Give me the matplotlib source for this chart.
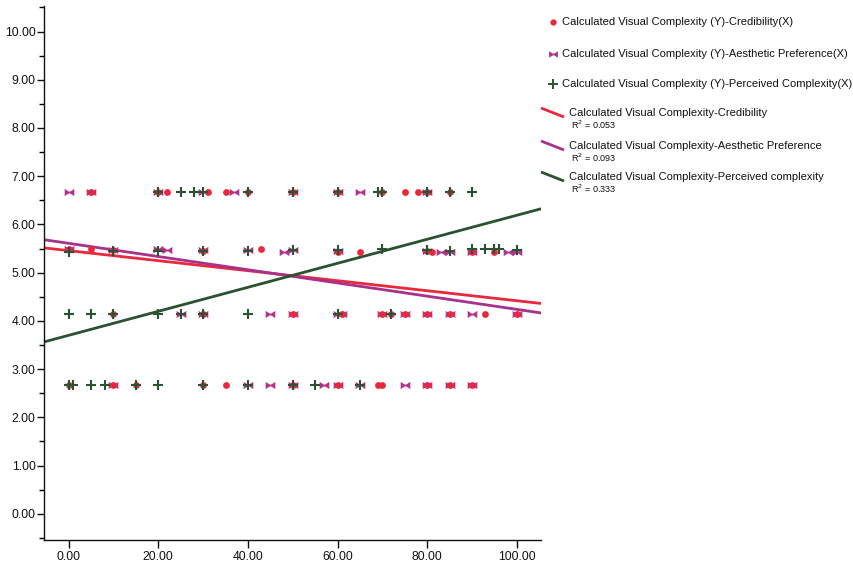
import numpy as np
import matplotlib
matplotlib.use("Agg")
import matplotlib.pyplot as plt
from matplotlib.path import Path
from matplotlib.ticker import MultipleLocator, FormatStrFormatter

plt.rcParams["font.family"] = ["Liberation Sans", "DejaVu Sans"]

# ---- data -------------------------------------------------------------
# Calculated Visual Complexity (Y) against Credibility (X)
cred_x = [5, 20, 22, 31, 35, 40, 50, 60, 70, 75, 78, 80, 85,
          0, 5, 10, 30, 43, 60, 65, 80, 81, 90, 95,
          10, 30, 50, 61, 70, 72, 75, 80, 85, 93, 100,
          0, 10, 15, 30, 35, 50, 60, 69, 70, 80, 85, 90]
cred_y = [6.67] * 13 + \
         [5.50, 5.50, 5.47, 5.45, 5.50, 5.43, 5.43, 5.45, 5.43, 5.43, 5.43] + \
         [4.15] * 11 + \
         [2.68] * 12

# Calculated Visual Complexity (Y) against Aesthetic Preference (X)
aest_x = [0, 5, 20, 30, 37, 50, 60, 65, 80,
          0, 10, 20, 22, 30, 40, 48, 50, 60, 80, 83, 85, 90, 98, 100,
          25, 30, 45, 50, 60, 61, 70, 75, 80, 85, 90, 100,
          10, 40, 45, 50, 57, 60, 65, 75, 80, 85, 90]
aest_y = [6.67] * 9 + \
         [5.48, 5.47, 5.48, 5.47, 5.47, 5.46, 5.43, 5.46, 5.44, 5.44, 5.43,
          5.43, 5.43, 5.43, 5.43] + \
         [4.15] * 12 + \
         [2.68] * 11

# Calculated Visual Complexity (Y) against Perceived Complexity (X)
perc_x = [20, 25, 28, 30, 40, 50, 60, 69, 70, 80, 85, 90,
          0, 10, 20, 30, 40, 50, 60, 70, 80, 85, 90, 93, 95, 96, 100,
          0, 5, 10, 20, 25, 30, 40, 60, 72,
          0, 1, 5, 8, 15, 20, 30, 40, 50, 55, 65]
perc_y = [6.67] * 12 + \
         [5.43, 5.44, 5.44, 5.45, 5.45, 5.47, 5.46, 5.48, 5.47, 5.45, 5.48,
          5.50, 5.50, 5.50, 5.47] + \
         [4.15] * 9 + \
         [2.68] * 11

# Linear fits: intercept, slope and R squared
fit_names = ["Calculated Visual Complexity-Credibility",
             "Calculated Visual Complexity-Aesthetic Preference",
             "Calculated Visual Complexity-Perceived complexity"]
fit_intercepts = [5.456, 5.608, 3.70]
fit_slopes = [-0.01039, -0.0137, 0.0249]
fit_r2 = [0.053, 0.093, 0.333]

scatter_names = ["Calculated Visual Complexity (Y)-Credibility(X)",
                 "Calculated Visual Complexity (Y)-Aesthetic Preference(X)",
                 "Calculated Visual Complexity (Y)-Perceived Complexity(X)"]

# ---- styles -------------------------------------------------------------
RED = "#e8283c"
PURPLE = "#b3338c"
GREEN = "#2b5332"
LINE_COLORS = ["#e8283c", "#a8328a", "#2a5230"]

# bow-tie marker: two wedges joined by a narrow waist
bowtie = Path([(-1, -0.75), (-0.15, -0.2), (0.15, -0.2), (1, -0.75),
               (1, 0.75), (0.15, 0.2), (-0.15, 0.2), (-1, 0.75), (-1, -0.75)],
              [Path.MOVETO] + [Path.LINETO] * 7 + [Path.CLOSEPOLY])

W, H = 854, 568
fig = plt.figure(figsize=(W / 100, H / 100), dpi=100)
ax = fig.add_axes([44 / W, 1 - 540 / H, (541.5 - 44) / W, (540 - 6) / H])

xlim = (-5.5, 105.5)
ax.set_xlim(*xlim)
ax.set_ylim(-0.545, 10.53)

xs = np.array(xlim)
for b0, b1, c in zip(fit_intercepts, fit_slopes, LINE_COLORS):
    ax.plot(xs, b0 + b1 * xs, color=c, lw=2.0, zorder=2, solid_capstyle="butt")

ax.scatter(aest_x, aest_y, marker=bowtie, s=48, color=PURPLE, linewidths=0, zorder=3)
ax.scatter(cred_x, cred_y, marker="o", s=24, color=RED, linewidths=0, zorder=4)
ax.scatter(perc_x, perc_y, marker="+", s=48, color=GREEN, linewidths=1.5, zorder=5)

for s in ("top", "right"):
    ax.spines[s].set_visible(False)
for s in ("left", "bottom"):
    ax.spines[s].set_linewidth(1.0)
    ax.spines[s].set_color("#111111")

ax.xaxis.set_major_formatter(FormatStrFormatter("%.2f"))
ax.yaxis.set_minor_locator(MultipleLocator(0.5))
ax.yaxis.set_major_formatter(FormatStrFormatter("%.2f"))
ax.set_xticks([0, 20, 40, 60, 80, 100])
ax.set_yticks(np.arange(0, 11, 1))
ax.tick_params(axis="x", which="major", length=6, width=1.0, pad=2,
               labelsize=8.7, colors="#111111")
ax.tick_params(axis="y", which="major", length=5, width=1.0, pad=1,
               labelsize=8.7, colors="#111111")
ax.tick_params(axis="y", which="minor", length=3.5, width=1.0)

# ---- legend (figure pixel space) ----------------------------------------
lg = fig.add_axes([0, 0, 1, 1], facecolor="none")
lg.set_xlim(0, W)
lg.set_ylim(H, 0)
lg.axis("off")

mk_y = [22, 54, 84]
lg.scatter([553], [mk_y[0]], marker="o", s=20, color=RED, linewidths=0)
lg.scatter([553], [mk_y[1]], marker=bowtie, s=40, color=PURPLE, linewidths=0)
lg.scatter([553], [mk_y[2]], marker="+", s=42, color=GREEN, linewidths=1.4)
for yy, name in zip(mk_y, scatter_names):
    lg.text(562, yy, name, fontsize=8.0, va="center", ha="left", color="#111111")

line_y = [113, 146, 177]
for yy, name, c, r2 in zip(line_y, fit_names, LINE_COLORS, fit_r2):
    lg.plot([541, 564], [yy - 5, yy + 4], color=c, lw=2.0, solid_capstyle="butt")
    lg.text(569, yy, name, fontsize=8.0, va="center", ha="left", color="#111111")
    lg.text(571, yy + 12, "R$^2$ = %.3f" % r2, fontsize=6.5, va="center",
            ha="left", color="#111111")

fig.savefig("out.png", dpi=100)
